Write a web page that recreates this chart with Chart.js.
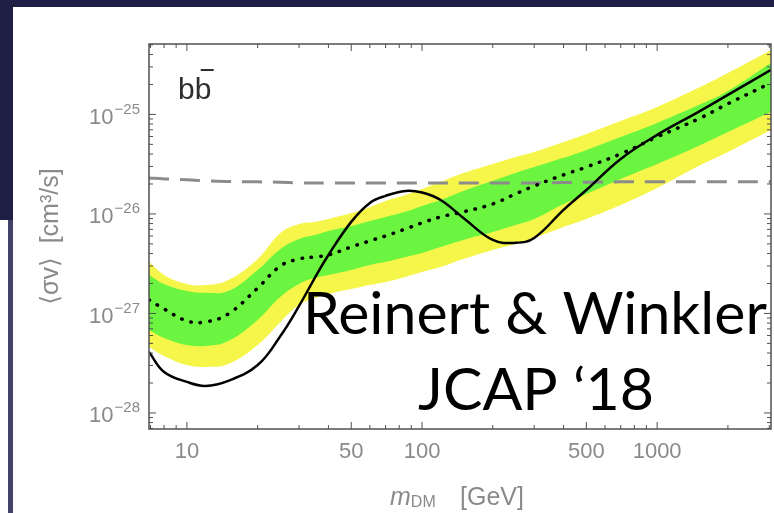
<!DOCTYPE html>
<html><head><meta charset="utf-8">
<script src="https://cdn.jsdelivr.net/npm/chart.js@4/dist/chart.umd.min.js"></script>
<style>html,body{margin:0;padding:0;background:#1f1e45;overflow:hidden}canvas{display:block}</style>
</head><body>
<canvas id="c" width="774" height="513"></canvas>
<script>
// ---- data ----
const masses = [6.9, 8, 10, 12, 15, 20, 25, 30, 35, 40, 50, 60, 70, 85, 100, 120, 150, 200, 250, 300, 400, 500, 700, 1000, 1500, 2000, 3050];
const observedLimit = [4.10e-28, 2.58e-28, 2.05e-28, 1.87e-28, 2.10e-28, 3.03e-28, 5.94e-28, 1.19e-27, 2.28e-27, 3.87e-27, 8.32e-27, 1.29e-26, 1.52e-26, 1.70e-26, 1.64e-26, 1.38e-26, 9.12e-27, 5.48e-27, 5.12e-27, 5.74e-27, 1.10e-26, 1.74e-26, 3.57e-26, 6.22e-26, 1.06e-25, 1.57e-25, 2.80e-25];
const expectedMedian = [1.37e-27, 1.11e-27, 8.41e-28, 8.22e-28, 9.89e-28, 1.80e-27, 3.00e-27, 3.53e-27, 3.70e-27, 3.87e-27, 4.66e-27, 5.36e-27, 6.01e-27, 7.06e-27, 8.13e-27, 9.33e-27, 1.05e-26, 1.26e-26, 1.59e-26, 1.91e-26, 2.47e-26, 2.96e-26, 4.01e-26, 5.94e-26, 9.01e-26, 1.28e-25, 2.07e-25];
const band68Upper = [2.44e-27, 1.98e-27, 1.68e-27, 1.61e-27, 1.68e-27, 2.74e-27, 4.45e-27, 5.61e-27, 6.15e-27, 6.75e-27, 7.57e-27, 8.51e-27, 9.33e-27, 1.05e-26, 1.20e-26, 1.38e-26, 1.70e-26, 2.15e-26, 2.58e-26, 2.96e-26, 3.66e-26, 4.40e-26, 5.94e-26, 8.22e-26, 1.24e-25, 1.72e-25, 3.30e-25];
const band68Lower = [6.82e-28, 5.68e-28, 4.82e-28, 4.71e-28, 5.29e-28, 8.61e-28, 1.47e-27, 1.98e-27, 2.28e-27, 2.44e-27, 2.74e-27, 3.07e-27, 3.30e-27, 3.70e-27, 4.06e-27, 4.66e-27, 5.48e-27, 6.59e-27, 7.74e-27, 8.91e-27, 1.26e-26, 1.59e-26, 2.25e-26, 3.18e-26, 4.82e-26, 6.67e-26, 1.06e-25];
const band95Upper = [3.30e-27, 2.44e-27, 1.98e-27, 1.93e-27, 2.17e-27, 3.53e-27, 6.44e-27, 7.93e-27, 8.32e-27, 8.91e-27, 1.02e-26, 1.17e-26, 1.35e-26, 1.55e-26, 1.78e-26, 2.10e-26, 2.58e-26, 3.18e-26, 3.74e-26, 4.20e-26, 5.29e-26, 6.37e-26, 8.61e-26, 1.19e-25, 1.85e-25, 2.61e-25, 4.45e-25];
const band95Lower = [4.60e-28, 3.74e-28, 3.03e-28, 2.90e-28, 3.10e-28, 4.82e-28, 8.22e-28, 1.22e-27, 1.43e-27, 1.57e-27, 1.76e-27, 1.93e-27, 2.07e-27, 2.33e-27, 2.61e-27, 2.93e-27, 3.53e-27, 4.35e-27, 4.99e-27, 5.74e-27, 7.40e-27, 8.91e-27, 1.23e-26, 1.82e-26, 3.03e-26, 4.20e-26, 6.98e-26];
const thermalRelic = [2.30e-26, 2.25e-26, 2.20e-26, 2.15e-26, 2.12e-26, 2.10e-26, 2.08e-26, 2.05e-26, 2.05e-26, 2.05e-26, 2.05e-26, 2.05e-26, 2.05e-26, 2.05e-26, 2.05e-26, 2.05e-26, 2.05e-26, 2.05e-26, 2.05e-26, 2.05e-26, 2.07e-26, 2.08e-26, 2.10e-26, 2.10e-26, 2.10e-26, 2.10e-26, 2.10e-26];

const xTickValues = [10, 50, 100, 500, 1000];
const xTickLabels = ['10', '50', '100', '500', '1000'];
const yTickValues = [1e-28, 1e-27, 1e-26, 1e-25];
const yTickExponents = ['\u221228', '\u221227', '\u221226', '\u221225'];
const xRange = [6.9, 3050];
const yRange = [6.9e-29, 5.1e-25];

const pts = arr => masses.map((m, i) => ({x: m, y: arr[i]}));

const GRAY = '#8a8a8a';
const FONT = '"Liberation Sans", Arial, "DejaVu Sans", sans-serif';

const bgPlugin = {
  id: 'bg',
  beforeDraw(chart) {
    const ctx = chart.ctx;
    ctx.save();
    ctx.fillStyle = '#1f1e45';
    ctx.fillRect(0, 0, 774, 513);
    ctx.fillStyle = '#ffffff';
    ctx.fillRect(13, 7, 761, 506);
    ctx.fillRect(0, 220, 8, 293);
    ctx.fillStyle = '#42426a';
    ctx.fillRect(8, 220, 5, 293);
    ctx.restore();
  }
};

const decorPlugin = {
  id: 'decor',
  afterDraw(chart) {
    const ctx = chart.ctx;
    const xs = chart.scales.x, ys = chart.scales.y;
    const ca = chart.chartArea;
    ctx.save();
    // frame
    ctx.strokeStyle = '#505050';
    ctx.lineWidth = 1.5;
    ctx.strokeRect(ca.left, ca.top, ca.right - ca.left, ca.bottom - ca.top);
    // ticks
    ctx.lineWidth = 1;
    const tick = (x1, y1, x2, y2) => { ctx.beginPath(); ctx.moveTo(x1, y1); ctx.lineTo(x2, y2); ctx.stroke(); };
    for (let d = 1; d <= 1000; d *= 10) {
      for (let k = 1; k <= 9; k++) {
        const v = k * d;
        if (v < xRange[0] || v > xRange[1]) continue;
        const px = xs.getPixelForValue(v);
        const len = xTickValues.includes(v) ? 7 : 4;
        tick(px, ca.bottom, px, ca.bottom - len);
        tick(px, ca.top, px, ca.top + len);
      }
    }
    for (let e = -29; e <= -25; e++) {
      for (let k = 1; k <= 9; k++) {
        const v = k * Math.pow(10, e);
        if (v < yRange[0] || v > yRange[1]) continue;
        const py = ys.getPixelForValue(v);
        const len = k === 1 ? 7 : 4;
        tick(ca.left, py, ca.left + len, py);
        tick(ca.right, py, ca.right - len, py);
      }
    }
    // x tick labels
    ctx.fillStyle = GRAY;
    ctx.font = '22px ' + FONT;
    ctx.textAlign = 'center';
    ctx.textBaseline = 'alphabetic';
    xTickValues.forEach((v, i) => ctx.fillText(xTickLabels[i], xs.getPixelForValue(v), ca.bottom + 29));
    // y tick labels with superscripts
    ctx.textAlign = 'left';
    yTickValues.forEach((v, i) => {
      const py = ys.getPixelForValue(v);
      ctx.font = '15px ' + FONT;
      const ws = ctx.measureText(yTickExponents[i]).width;
      ctx.font = '22px ' + FONT;
      const wb = ctx.measureText('10').width;
      const xr = ca.left - 9;
      ctx.fillText('10', xr - ws - wb - 1, py + 9.5);
      ctx.font = '15px ' + FONT;
      ctx.fillText(yTickExponents[i], xr - ws, py - 0.5);
    });
    // y title
    ctx.save();
    ctx.translate(58, (ca.top + ca.bottom) / 2);
    ctx.rotate(-Math.PI / 2);
    ctx.textAlign = 'center';
    ctx.font = '25px ' + FONT;
    ctx.fillText('\u27E8\u03C3v\u27E9  [cm\u00B3/s]', 0, 0);
    ctx.restore();
    // x title
    ctx.textAlign = 'left';
    ctx.font = 'italic 25px ' + FONT;
    ctx.fillText('m', 390, 505);
    const wm = ctx.measureText('m').width;
    ctx.font = '16px ' + FONT;
    ctx.fillText('DM', 390 + wm, 507);
    ctx.font = '25px ' + FONT;
    ctx.fillText('[GeV]', 460, 505);
    // channel label
    ctx.fillStyle = '#2e2e2e';
    ctx.font = '30px ' + FONT;
    const wb1 = ctx.measureText('b').width;
    ctx.fillText('b', 178, 99);
    ctx.fillText('b', 178 + wb1, 99);
    ctx.strokeStyle = '#2e2e2e';
    ctx.lineWidth = 2;
    tick(178 + wb1 + 6, 70, 178 + wb1 + 19, 70);
    // overlay citation
    ctx.fillStyle = '#000000';
    ctx.font = '59px Lato, "Open Sans", sans-serif';
    ctx.textAlign = 'center';
    ctx.fillText('Reinert & Winkler', 535, 334);
    ctx.fillText('JCAP \u201818', 536, 410);
    ctx.restore();
  }
};

const common = {pointRadius: 0, pointHoverRadius: 0, tension: 0.4};

new Chart(document.getElementById('c'), {
  type: 'line',
  data: {
    datasets: [
      Object.assign({label: 'observed', data: pts(observedLimit), borderColor: '#000000', borderWidth: 2.5, fill: false, order: 0}, common),
      Object.assign({label: 'median', data: pts(expectedMedian), borderColor: '#000000', borderWidth: 3.5, borderDash: [0.5, 9], borderCapStyle: 'round', fill: false, order: 1}, common),
      Object.assign({label: 'thermal', data: pts(thermalRelic), borderColor: '#8c8c8c', borderWidth: 3, borderDash: [20, 11], fill: false, order: 2}, common),
      Object.assign({label: '68up', data: pts(band68Upper), borderColor: 'rgba(0,0,0,0)', borderWidth: 0, backgroundColor: '#6cf540', fill: 4, order: 3}, common),
      Object.assign({label: '68lo', data: pts(band68Lower), borderColor: 'rgba(0,0,0,0)', borderWidth: 0, fill: false, order: 4}, common),
      Object.assign({label: '95up', data: pts(band95Upper), borderColor: 'rgba(0,0,0,0)', borderWidth: 0, backgroundColor: '#f6f64a', fill: 6, order: 5}, common),
      Object.assign({label: '95lo', data: pts(band95Lower), borderColor: 'rgba(0,0,0,0)', borderWidth: 0, fill: false, order: 6}, common)
    ]
  },
  options: {
    responsive: false,
    animation: false,
    events: [],
    layout: {padding: {left: 149, top: 44, right: 3, bottom: 84}},
    plugins: {legend: {display: false}, tooltip: {enabled: false}},
    scales: {
      x: {type: 'logarithmic', display: false, min: xRange[0], max: xRange[1]},
      y: {type: 'logarithmic', display: false, min: yRange[0], max: yRange[1]}
    }
  },
  plugins: [bgPlugin, decorPlugin]
});
</script>
</body></html>
